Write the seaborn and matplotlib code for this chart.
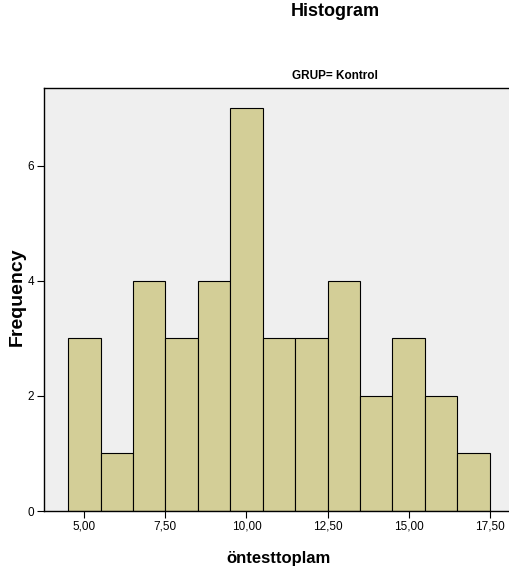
import numpy as np
import pandas as pd
import matplotlib
matplotlib.use("Agg")
import matplotlib.pyplot as plt
import seaborn as sns

# Scores of the control group and how many students got each score
scores = [5, 6, 7, 8, 9, 10, 11, 12, 13, 14, 15, 16, 17]
frequencies = [3, 1, 4, 3, 4, 7, 3, 3, 4, 2, 3, 2, 1]
x_ticks = [5.0, 7.5, 10.0, 12.5, 15.0, 17.5]
y_ticks = [0, 2, 4, 6]

df = pd.DataFrame({"öntesttoplam": scores, "count": frequencies})

sns.set_theme(style="white", rc={
    "text.color": "black",
    "axes.labelcolor": "black",
    "xtick.color": "black",
    "ytick.color": "black",
})
plt.rcParams["font.family"] = ["Liberation Sans", "DejaVu Sans"]

fig = plt.figure(figsize=(5.1, 5.8), dpi=100)
W, H = 510, 580
ax_left, ax_right, ax_top, ax_bottom = 44, 514, 88, 511
ax = fig.add_axes([ax_left / W, 1 - ax_bottom / H,
                   (ax_right - ax_left) / W, (ax_bottom - ax_top) / H])
ax.set_facecolor("#efefef")

sns.histplot(data=df, x="öntesttoplam", weights="count",
             binwidth=1.0, binrange=(4.5, 17.5),
             color="#d3ce97", edgecolor="black", linewidth=0.8, alpha=1.0, ax=ax)

ax.set_xlim(3.757, 18.25)
ax.set_ylim(0, 7.35)
ax.set_xticks(x_ticks)
ax.set_xticklabels([f"{t:.2f}".replace(".", ",") for t in x_ticks], fontsize=8.5)
ax.set_yticks(y_ticks)
ax.set_yticklabels([str(t) for t in y_ticks], fontsize=8.5)
ax.tick_params(axis="both", direction="out", length=5, width=0.8, color="black",
               labelcolor="black", left=True, bottom=True, pad=2)

for side in ["left", "bottom", "top"]:
    ax.spines[side].set_visible(True)
    ax.spines[side].set_color("black")
    ax.spines[side].set_linewidth(1.0)
ax.spines["right"].set_visible(False)

ax.set_xlabel("öntesttoplam", fontsize=12, fontweight="bold", labelpad=13)
ax.set_ylabel("Frequency", fontsize=14, fontweight="bold")
ax.yaxis.label.set_verticalalignment("center")
ax.yaxis.set_label_coords((17 - ax_left) / (ax_right - ax_left),
                          (ax_bottom - 297) / (ax_bottom - ax_top))

fig.text(335 / W, 1 - 12 / H, "Histogram", ha="center", va="center",
         fontsize=13, fontweight="bold", color="black")
fig.text(335 / W, 1 - 76 / H, "GRUP= Kontrol", ha="center", va="center",
         fontsize=8.5, fontweight="bold", color="black")

fig.savefig("out.png", dpi=100)
